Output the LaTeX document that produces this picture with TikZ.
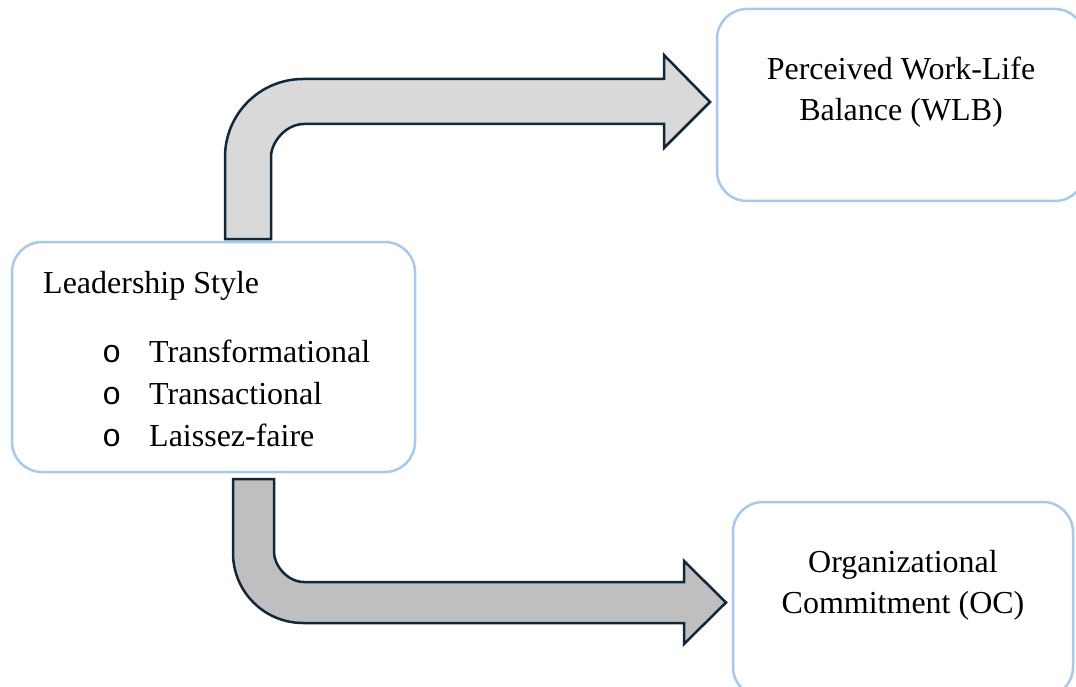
\documentclass[tikz,border=0pt]{standalone}
\usepackage{fontspec}
\setmainfont{Liberation Serif}
\newfontfamily\bulletfont{Liberation Mono}
\definecolor{boxblue}{HTML}{A6C9EC}
\definecolor{arrowline}{HTML}{10283A}
\definecolor{fillA}{HTML}{D9D9D9}
\definecolor{fillB}{HTML}{BFBFBF}
\begin{document}
\begin{tikzpicture}[x=1pt,y=-1pt,
  box/.style={draw=boxblue,line width=2.5pt,rounded corners=30pt,fill=white,inner sep=0pt},
  blockarrow/.style={draw=arrowline,line width=2.5pt,line join=miter},
  txt/.style={inner sep=0pt,font=\fontsize{32}{40}\selectfont}]
\useasboundingbox (0,0) rectangle (1076,687);
% boxes
\node[box,minimum width=403pt,minimum height=230pt] (ls) at (213.5,357) {};
\node[box,minimum width=368pt,minimum height=192pt] (wlb) at (901,105) {};
\node[box,minimum width=340pt,minimum height=195pt] (oc) at (903,599.5) {};
% block arrows
\path[blockarrow,fill=fillA] (225,239) -- (225,157) .. controls (225,113.9) and (259.9,79) .. (303,79) -- (664,79) -- (664,55) -- (710,102) -- (664,148) -- (664,124) -- (304,124) .. controls (285.8,124) and (271,142.2) .. (271,157) -- (271,239) -- cycle;
\path[blockarrow,fill=fillB] (233,479) -- (233,553) .. controls (233,591.7) and (264.3,623) .. (303,623) -- (684,623) -- (684,644) -- (726,602.5) -- (684,561) -- (684,582) -- (304,582) .. controls (287.4,582) and (274,565.4) .. (274,552) -- (274,479) -- cycle;
% texts
\node[txt,anchor=base west] (lstitle) at (43,293) {Leadership Style};
\node[txt,anchor=base west] (b1) at (102,362) {\bulletfont o};
\node[txt,anchor=base west] (i1) at (149,362) {Transformational};
\node[txt,anchor=base west] (b2) at (102,404) {\bulletfont o};
\node[txt,anchor=base west] (i2) at (149,404) {Transactional};
\node[txt,anchor=base west] (b3) at (102,446) {\bulletfont o};
\node[txt,anchor=base west] (i3) at (149,446) {Laissez-faire};
\node[txt,anchor=base] (w1) at (901,80) {Perceived Work-Life};
\node[txt,anchor=base] (w2) at (901,121) {Balance (WLB)};
\node[txt,anchor=base] (o1) at (903,572) {Organizational};
\node[txt,anchor=base] (o2) at (903,613) {Commitment (OC)};
\end{tikzpicture}
\end{document}
